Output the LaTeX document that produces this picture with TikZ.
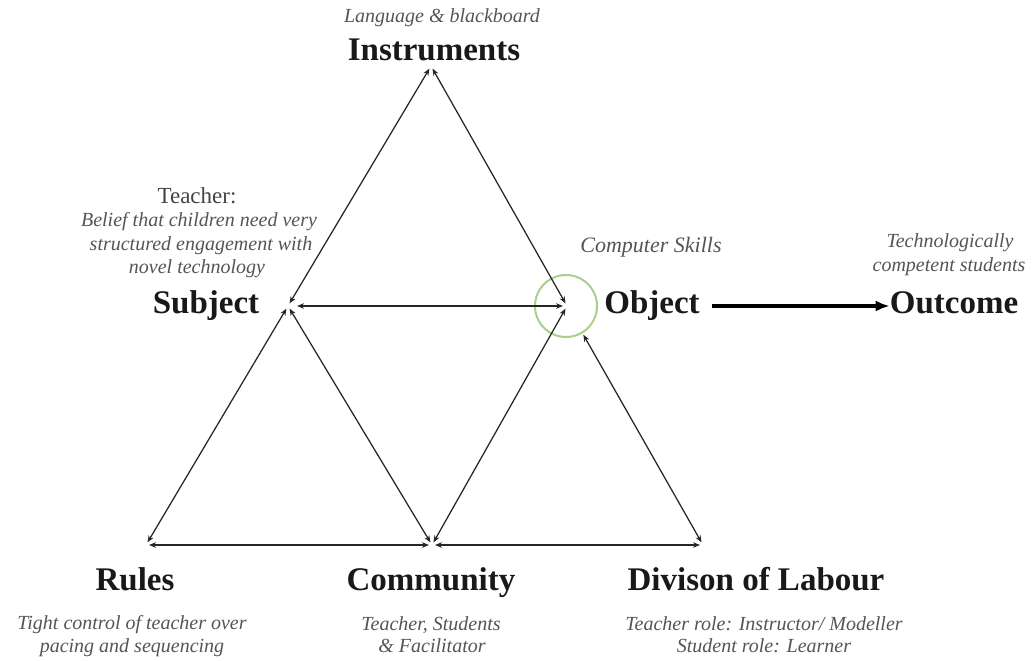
\documentclass[tikz,border=0pt]{standalone}
\usepackage{fontspec}
\setmainfont{Liberation Serif}
\usetikzlibrary{arrows.meta}
\definecolor{edge}{HTML}{262626}
\definecolor{note}{HTML}{555555}
\definecolor{ring}{HTML}{A8D08D}
\begin{document}
\begin{tikzpicture}[x=1pt,y=-1pt,
  tip/.tip={Stealth[length=7pt,width=5.5pt]},
  link/.style={draw=edge, line width=1.25pt, tip-tip, shorten <=3pt, shorten >=3pt},
  head/.style={font=\fontsize{33}{36}\selectfont\bfseries, text=black!90, inner sep=0pt, anchor=base},
  notes/.style={font=\fontsize{20}{24}\selectfont\itshape, text=note, inner sep=0pt, anchor=base},
  plain/.style={font=\fontsize{23}{26}\selectfont, text=note!80!black, inner sep=0pt, anchor=base},
]
\useasboundingbox (0,0) rectangle (1033,661);
\fill[white] (0,0) rectangle (1033,661);

% corners of the activity triangle
\coordinate (I) at (431,66);
\coordinate (S) at (288,306);
\coordinate (O) at (567,306);
\coordinate (R) at (146,545);
\coordinate (C) at (432,545);
\coordinate (D) at (703,545);

% highlight around the object corner
\draw[ring, line width=2pt] (566,306) circle (31);

% two-way links between the corners
\draw[link] (I) -- (S);
\draw[link] (I) -- (O);
\draw[link] (S) -- (R);
\draw[link, shorten <=33pt] (O) -- (D);
\draw[link, shorten <=9pt, shorten >=4pt] (S) -- (O);
\draw[link] (S) -- (C);
\draw[link] (C) -- (O);
\draw[link] (R) -- (C);
\draw[link] (C) -- (D);

% corner labels
\node[head] (instr) at (434,61) {Instruments};
\node[head] (subj) at (206,313) {Subject};
\node[head] (obj) at (652,313) {Object};
\node[head] (outc) at (954,313) {Outcome};
\node[head] (rules) at (135,590) {Rules};
\node[head] (comm) at (431,590) {Community};
\node[head] (div) at (756,590) {Divison of Labour};

% object leads to outcome
\coordinate (oa) at ([xshift=12pt, yshift=7pt]obj.base east);
\draw[black, line width=3.8pt, -{Latex[length=14pt,width=11pt]}] (oa) -- (oa -| outc.west);

% notes
\node[notes] (n1) at (442,23) {Language \& blackboard};
\node[plain] (n2) at (197,203) {Teacher:};
\node[notes] (n3) at (199,226) {Belief that children need very};
\node[notes] (n4) at (201,250) {structured engagement with};
\node[notes] (n5) at (197,273) {novel technology};
\node[notes, font=\fontsize{22}{24}\selectfont\itshape] (n6) at (651,252) {Computer Skills};
\node[notes] (n7) at (950,247) {Technologically};
\node[notes] (n8) at (949,271) {competent students};
\node[notes] (n9) at (132,629) {Tight control of teacher over};
\node[notes] (n10) at (132,652) {pacing and sequencing};
\node[notes] (n11) at (431,630) {Teacher, Students};
\node[notes] (n12) at (432,652) {\& Facilitator};
\node[notes] (n13) at (764,630) {Teacher role: Instructor/ Modeller};
\node[notes] (n14) at (764,652) {Student role: Learner};
\end{tikzpicture}
\end{document}
